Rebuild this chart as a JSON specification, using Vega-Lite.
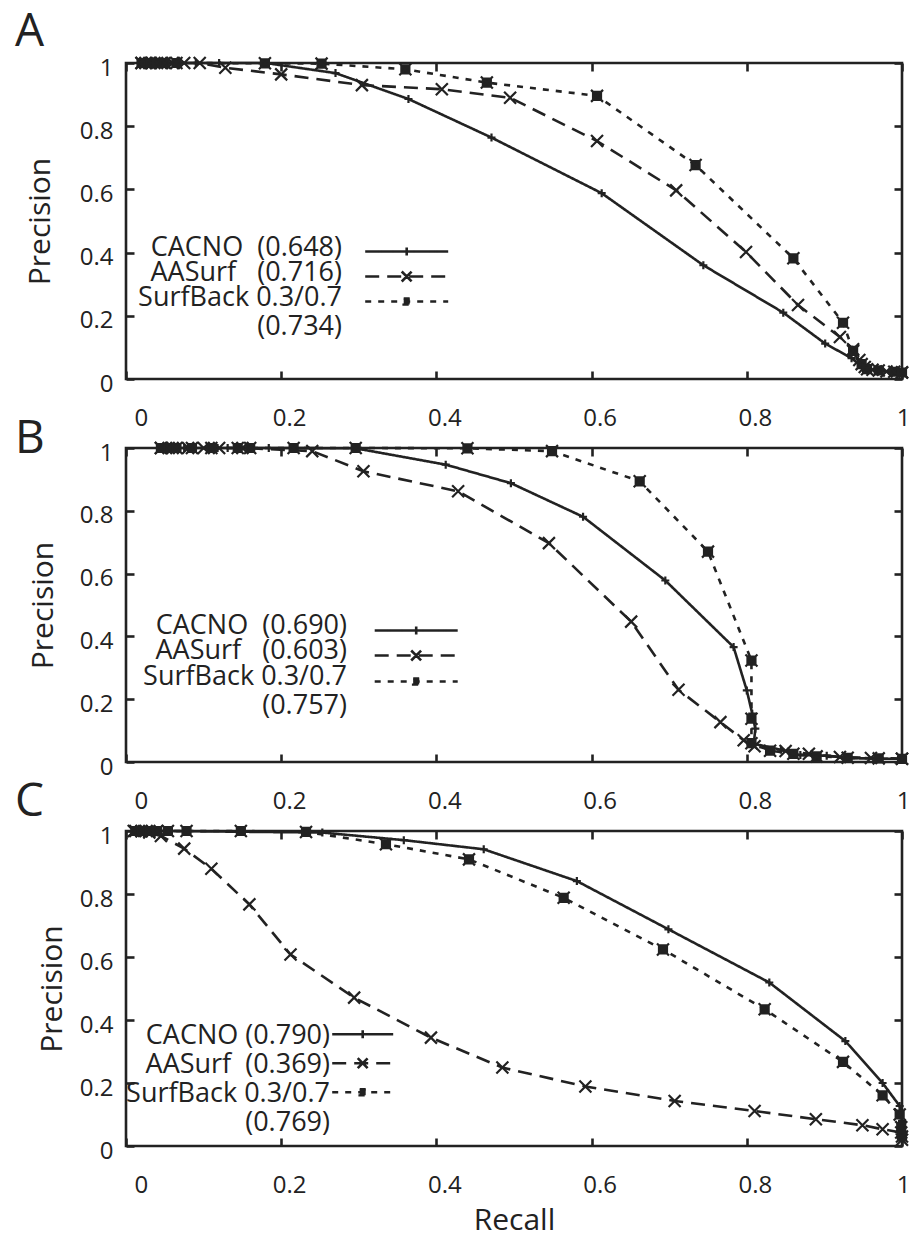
{
  "$schema": "https://vega.github.io/schema/vega-lite/v6.json",
  "background": "white",
  "padding": {"left": 13, "top": 7, "right": 5, "bottom": 5},
  "bounds": "flush",
  "spacing": 69,
  "resolve": {
    "scale": {"strokeDash": "independent", "x": "independent", "y": "independent"},
    "legend": {"strokeDash": "independent"}
  },
  "config": {
    "font": "Open Sans",
    "view": {"stroke": "#222", "strokeWidth": 2.6},
    "axis": {
      "domain": false, "grid": false, "tickSize": -8, "tickWidth": 2.6, "tickColor": "#222",
      "tickCount": 5, "format": "~g",
      "labelFont": "Open Sans", "labelFontSize": 24, "labelColor": "#222",
      "titleFont": "Open Sans", "titleFontSize": 30, "titleFontWeight": "normal", "titleColor": "#222"
    },
    "axisX": {"labelPadding": 35, "labelOffset": 8},
    "axisY": {"labelPadding": 21, "labelOffset": 5},
    "title": {"fontSize": 46, "fontWeight": "normal", "anchor": "start", "frame": "group", "baseline": "alphabetic", "offset": 0, "dx": -111, "color": "#222", "font": "Open Sans"},
    "legend": {"labelFont": "Open Sans", "labelFontSize": 27, "labelColor": "#222", "labelLimit": 500, "labelAlign": "right", "labelBaseline": "top", "symbolStrokeWidth": 2.6, "symbolStrokeColor": "#222", "symbolSize": 100, "padding": 0, "rowPadding": -3}
  },
  "vconcat": [
    {
      "width": 776, "height": 316,
      "title": {"text": "A", "dy": 7.5},
      "data": {"values": [
        {"method":"CACNO","recall":0.02,"precision":1},{"method":"CACNO","recall":0.035,"precision":1},{"method":"CACNO","recall":0.05,"precision":1},{"method":"CACNO","recall":0.07,"precision":1},{"method":"CACNO","recall":0.09,"precision":1},{"method":"CACNO","recall":0.12,"precision":1},{"method":"CACNO","recall":0.18,"precision":1},{"method":"CACNO","recall":0.27,"precision":0.968},{"method":"CACNO","recall":0.364,"precision":0.886},{"method":"CACNO","recall":0.471,"precision":0.764},{"method":"CACNO","recall":0.613,"precision":0.588},{"method":"CACNO","recall":0.744,"precision":0.36},{"method":"CACNO","recall":0.847,"precision":0.21},{"method":"CACNO","recall":0.901,"precision":0.112},{"method":"CACNO","recall":0.935,"precision":0.066},{"method":"CACNO","recall":0.952,"precision":0.032},{"method":"CACNO","recall":0.97,"precision":0.026},{"method":"CACNO","recall":1.0,"precision":0.02},
        {"method":"AASurf","recall":0.02,"precision":1},{"method":"AASurf","recall":0.03,"precision":1},{"method":"AASurf","recall":0.045,"precision":1},{"method":"AASurf","recall":0.06,"precision":1},{"method":"AASurf","recall":0.075,"precision":1},{"method":"AASurf","recall":0.095,"precision":1},{"method":"AASurf","recall":0.128,"precision":0.985},{"method":"AASurf","recall":0.2,"precision":0.964},{"method":"AASurf","recall":0.304,"precision":0.93},{"method":"AASurf","recall":0.407,"precision":0.917},{"method":"AASurf","recall":0.495,"precision":0.89},{"method":"AASurf","recall":0.607,"precision":0.753},{"method":"AASurf","recall":0.709,"precision":0.597},{"method":"AASurf","recall":0.799,"precision":0.402},{"method":"AASurf","recall":0.866,"precision":0.234},{"method":"AASurf","recall":0.92,"precision":0.133},{"method":"AASurf","recall":0.937,"precision":0.094},{"method":"AASurf","recall":0.945,"precision":0.06},{"method":"AASurf","recall":0.952,"precision":0.038},{"method":"AASurf","recall":0.962,"precision":0.029},{"method":"AASurf","recall":0.98,"precision":0.024},{"method":"AASurf","recall":1.0,"precision":0.021},
        {"method":"SurfBack","recall":0.02,"precision":1},{"method":"SurfBack","recall":0.025,"precision":1},{"method":"SurfBack","recall":0.032,"precision":1},{"method":"SurfBack","recall":0.04,"precision":1},{"method":"SurfBack","recall":0.05,"precision":1},{"method":"SurfBack","recall":0.065,"precision":1},{"method":"SurfBack","recall":0.179,"precision":0.999},{"method":"SurfBack","recall":0.252,"precision":0.998},{"method":"SurfBack","recall":0.36,"precision":0.98},{"method":"SurfBack","recall":0.465,"precision":0.938},{"method":"SurfBack","recall":0.607,"precision":0.896},{"method":"SurfBack","recall":0.734,"precision":0.677},{"method":"SurfBack","recall":0.86,"precision":0.382},{"method":"SurfBack","recall":0.924,"precision":0.178},{"method":"SurfBack","recall":0.937,"precision":0.089},{"method":"SurfBack","recall":0.948,"precision":0.047},{"method":"SurfBack","recall":0.955,"precision":0.031},{"method":"SurfBack","recall":0.97,"precision":0.027},{"method":"SurfBack","recall":0.99,"precision":0.023},{"method":"SurfBack","recall":1.0,"precision":0.0205}
      ]},
      "layer": [
        {
          "mark": {"type": "line", "stroke": "#222", "strokeWidth": 2.6},
          "encoding": {
            "x": {"field": "recall", "type": "quantitative", "scale": {"domain": [0, 1]}, "axis": {"orient": "bottom", "title": null}},
            "y": {"field": "precision", "type": "quantitative", "scale": {"domain": [0, 1]}, "axis": {"orient": "left", "title": "Precision", "titlePadding": 24}},
            "order": {"field": "precision", "sort": "descending"},
            "strokeDash": {
              "field": "method", "type": "nominal",
              "scale": {"domain": ["CACNO", "AASurf", "SurfBack"], "range": [[1, 0], [14, 8], [6, 7]]},
              "legend": {
                "orient": "none", "legendX": 267.2, "legendY": 175, "title": null,
                "labelOffset": -78.2,
                "labelExpr": "datum.value == 'CACNO' ? 'CACNO\u00a0\u00a0(0.648)' : datum.value == 'AASurf' ? 'AASurf\u00a0\u00a0\u00a0(0.716)' : ['SurfBack 0.3/0.7', '(0.734)']",
                "encode": {
                  "symbols": {"update": {
                    "shape": {"signal": "datum.value == 'CACNO' ? 'M-8.3,0H8.3M0,-0.8V0.8' : datum.value == 'AASurf' ? 'M-8.3,0H8.3M-1,-1L1,1M-1,1L1,-1' : 'M-8.3,0H8.3M-0.6,-0.6H0.6V0.6H-0.6Z'"},
                    "fill": {"value": "#222"}, "stroke": {"value": "#222"}, "opacity": {"value": 1}
                  }},
                  "labels": {"update": {"dy": {"value": -16.4}}}
                }
              }
            }
          }
        },
        {
          "transform": [{"filter": "datum.method == 'CACNO'"}],
          "mark": {"type": "point", "shape": "M-0.8,0H0.8M0,-0.8V0.8", "filled": true, "fill": "#222", "stroke": "#222", "strokeWidth": 2.2, "opacity": 1, "size": 100},
          "encoding": {
            "x": {"field": "recall", "type": "quantitative", "scale": {"domain": [0, 1]}, "axis": {"orient": "top", "labels": false, "title": null}},
            "y": {"field": "precision", "type": "quantitative", "scale": {"domain": [0, 1]}, "axis": {"orient": "right", "labels": false, "title": null}}
          }
        },
        {
          "transform": [{"filter": "datum.method == 'AASurf'"}],
          "mark": {"type": "point", "shape": "M-1.2,-1.2L1.2,1.2M-1.2,1.2L1.2,-1.2", "filled": true, "fill": "#222", "stroke": "#222", "strokeWidth": 2.2, "opacity": 1, "size": 100},
          "encoding": {
            "x": {"field": "recall", "type": "quantitative", "axis": null},
            "y": {"field": "precision", "type": "quantitative", "axis": null}
          }
        },
        {
          "transform": [{"filter": "datum.method == 'SurfBack'"}],
          "mark": {"type": "point", "shape": "M-0.8,-0.8H0.8V0.8H-0.8ZM-1.2,-1.2L1.2,1.2M-1.2,1.2L1.2,-1.2", "filled": true, "fill": "#222", "stroke": "#222", "strokeWidth": 2.2, "opacity": 1, "size": 100},
          "encoding": {
            "x": {"field": "recall", "type": "quantitative", "axis": null},
            "y": {"field": "precision", "type": "quantitative", "axis": null}
          }
        }
      ],
      "resolve": {"axis": {"x": "independent", "y": "independent"}}
    },
    {
      "width": 776, "height": 314,
      "title": {"text": "B", "dy": 29.5},
      "data": {"values": [
        {"method":"CACNO","recall":0.045,"precision":1},{"method":"CACNO","recall":0.06,"precision":1},{"method":"CACNO","recall":0.075,"precision":1},{"method":"CACNO","recall":0.09,"precision":1},{"method":"CACNO","recall":0.105,"precision":1},{"method":"CACNO","recall":0.118,"precision":1},{"method":"CACNO","recall":0.131,"precision":1},{"method":"CACNO","recall":0.184,"precision":1},{"method":"CACNO","recall":0.296,"precision":0.999},{"method":"CACNO","recall":0.412,"precision":0.947},{"method":"CACNO","recall":0.496,"precision":0.888},{"method":"CACNO","recall":0.589,"precision":0.781},{"method":"CACNO","recall":0.695,"precision":0.578},{"method":"CACNO","recall":0.783,"precision":0.366},{"method":"CACNO","recall":0.8,"precision":0.228},{"method":"CACNO","recall":0.807,"precision":0.154},{"method":"CACNO","recall":0.811,"precision":0.106},{"method":"CACNO","recall":0.809,"precision":0.058},{"method":"CACNO","recall":0.844,"precision":0.039},{"method":"CACNO","recall":0.869,"precision":0.022},{"method":"CACNO","recall":0.903,"precision":0.02},{"method":"CACNO","recall":0.934,"precision":0.012},{"method":"CACNO","recall":0.97,"precision":0.011},{"method":"CACNO","recall":1.0,"precision":0.01},
        {"method":"AASurf","recall":0.045,"precision":1},{"method":"AASurf","recall":0.06,"precision":1},{"method":"AASurf","recall":0.08,"precision":1},{"method":"AASurf","recall":0.1,"precision":1},{"method":"AASurf","recall":0.12,"precision":1},{"method":"AASurf","recall":0.15,"precision":1},{"method":"AASurf","recall":0.24,"precision":0.99},{"method":"AASurf","recall":0.306,"precision":0.926},{"method":"AASurf","recall":0.428,"precision":0.862},{"method":"AASurf","recall":0.545,"precision":0.697},{"method":"AASurf","recall":0.651,"precision":0.447},{"method":"AASurf","recall":0.712,"precision":0.23},{"method":"AASurf","recall":0.766,"precision":0.127},{"method":"AASurf","recall":0.796,"precision":0.069},{"method":"AASurf","recall":0.81,"precision":0.05},{"method":"AASurf","recall":0.85,"precision":0.035},{"method":"AASurf","recall":0.88,"precision":0.026},{"method":"AASurf","recall":0.92,"precision":0.016},{"method":"AASurf","recall":0.96,"precision":0.013},{"method":"AASurf","recall":1.0,"precision":0.0105},
        {"method":"SurfBack","recall":0.045,"precision":1},{"method":"SurfBack","recall":0.055,"precision":1},{"method":"SurfBack","recall":0.065,"precision":1},{"method":"SurfBack","recall":0.085,"precision":1},{"method":"SurfBack","recall":0.11,"precision":1},{"method":"SurfBack","recall":0.144,"precision":1},{"method":"SurfBack","recall":0.16,"precision":1},{"method":"SurfBack","recall":0.216,"precision":1},{"method":"SurfBack","recall":0.296,"precision":1},{"method":"SurfBack","recall":0.44,"precision":0.999},{"method":"SurfBack","recall":0.549,"precision":0.99},{"method":"SurfBack","recall":0.662,"precision":0.894},{"method":"SurfBack","recall":0.75,"precision":0.67},{"method":"SurfBack","recall":0.806,"precision":0.323},{"method":"SurfBack","recall":0.806,"precision":0.138},{"method":"SurfBack","recall":0.806,"precision":0.06},{"method":"SurfBack","recall":0.83,"precision":0.036},{"method":"SurfBack","recall":0.86,"precision":0.026},{"method":"SurfBack","recall":0.89,"precision":0.018},{"method":"SurfBack","recall":0.93,"precision":0.0135},{"method":"SurfBack","recall":0.97,"precision":0.0115},{"method":"SurfBack","recall":1.0,"precision":0.0102}
      ]},
      "layer": [
        {
          "mark": {"type": "line", "stroke": "#222", "strokeWidth": 2.6},
          "encoding": {
            "x": {"field": "recall", "type": "quantitative", "scale": {"domain": [0, 1]}, "axis": {"orient": "bottom", "title": null}},
            "y": {"field": "precision", "type": "quantitative", "scale": {"domain": [0, 1]}, "axis": {"orient": "left", "title": "Precision", "titlePadding": 21}},
            "order": {"field": "precision", "sort": "descending"},
            "strokeDash": {
              "field": "method", "type": "nominal",
              "scale": {"domain": ["CACNO", "AASurf", "SurfBack"], "range": [[1, 0], [14, 8], [6, 7]]},
              "legend": {
                "orient": "none", "legendX": 276.7, "legendY": 169, "title": null,
                "labelOffset": -82.7,
                "labelExpr": "datum.value == 'CACNO' ? 'CACNO\u00a0\u00a0(0.690)' : datum.value == 'AASurf' ? 'AASurf\u00a0\u00a0\u00a0(0.603)' : ['SurfBack 0.3/0.7', '(0.757)']",
                "encode": {
                  "symbols": {"update": {
                    "shape": {"signal": "datum.value == 'CACNO' ? 'M-8.3,0H8.3M0,-0.8V0.8' : datum.value == 'AASurf' ? 'M-8.3,0H8.3M-1,-1L1,1M-1,1L1,-1' : 'M-8.3,0H8.3M-0.6,-0.6H0.6V0.6H-0.6Z'"},
                    "fill": {"value": "#222"}, "stroke": {"value": "#222"}, "opacity": {"value": 1}
                  }},
                  "labels": {"update": {"dy": {"value": -17.4}}}
                }
              }
            }
          }
        },
        {
          "transform": [{"filter": "datum.method == 'CACNO'"}],
          "mark": {"type": "point", "shape": "M-0.8,0H0.8M0,-0.8V0.8", "filled": true, "fill": "#222", "stroke": "#222", "strokeWidth": 2.2, "opacity": 1, "size": 100},
          "encoding": {
            "x": {"field": "recall", "type": "quantitative", "scale": {"domain": [0, 1]}, "axis": {"orient": "top", "labels": false, "title": null}},
            "y": {"field": "precision", "type": "quantitative", "scale": {"domain": [0, 1]}, "axis": {"orient": "right", "labels": false, "title": null}}
          }
        },
        {
          "transform": [{"filter": "datum.method == 'AASurf'"}],
          "mark": {"type": "point", "shape": "M-1.2,-1.2L1.2,1.2M-1.2,1.2L1.2,-1.2", "filled": true, "fill": "#222", "stroke": "#222", "strokeWidth": 2.2, "opacity": 1, "size": 100},
          "encoding": {
            "x": {"field": "recall", "type": "quantitative", "axis": null},
            "y": {"field": "precision", "type": "quantitative", "axis": null}
          }
        },
        {
          "transform": [{"filter": "datum.method == 'SurfBack'"}],
          "mark": {"type": "point", "shape": "M-0.8,-0.8H0.8V0.8H-0.8ZM-1.2,-1.2L1.2,1.2M-1.2,1.2L1.2,-1.2", "filled": true, "fill": "#222", "stroke": "#222", "strokeWidth": 2.2, "opacity": 1, "size": 100},
          "encoding": {
            "x": {"field": "recall", "type": "quantitative", "axis": null},
            "y": {"field": "precision", "type": "quantitative", "axis": null}
          }
        }
      ],
      "resolve": {"axis": {"x": "independent", "y": "independent"}}
    },
    {
      "width": 776, "height": 315,
      "title": {"text": "C", "dy": 9.5},
      "data": {"values": [
        {"method":"CACNO","recall":0.01,"precision":1},{"method":"CACNO","recall":0.02,"precision":1},{"method":"CACNO","recall":0.03,"precision":1},{"method":"CACNO","recall":0.04,"precision":1},{"method":"CACNO","recall":0.055,"precision":1},{"method":"CACNO","recall":0.253,"precision":0.995},{"method":"CACNO","recall":0.358,"precision":0.971},{"method":"CACNO","recall":0.461,"precision":0.942},{"method":"CACNO","recall":0.581,"precision":0.841},{"method":"CACNO","recall":0.699,"precision":0.688},{"method":"CACNO","recall":0.829,"precision":0.519},{"method":"CACNO","recall":0.927,"precision":0.333},{"method":"CACNO","recall":0.975,"precision":0.2},{"method":"CACNO","recall":0.997,"precision":0.127},{"method":"CACNO","recall":1.0,"precision":0.08},{"method":"CACNO","recall":1.0,"precision":0.04},
        {"method":"AASurf","recall":0.01,"precision":1},{"method":"AASurf","recall":0.02,"precision":0.999},{"method":"AASurf","recall":0.03,"precision":0.995},{"method":"AASurf","recall":0.045,"precision":0.984},{"method":"AASurf","recall":0.075,"precision":0.944},{"method":"AASurf","recall":0.11,"precision":0.88},{"method":"AASurf","recall":0.159,"precision":0.767},{"method":"AASurf","recall":0.212,"precision":0.608},{"method":"AASurf","recall":0.294,"precision":0.471},{"method":"AASurf","recall":0.393,"precision":0.344},{"method":"AASurf","recall":0.485,"precision":0.249},{"method":"AASurf","recall":0.592,"precision":0.189},{"method":"AASurf","recall":0.707,"precision":0.143},{"method":"AASurf","recall":0.81,"precision":0.111},{"method":"AASurf","recall":0.889,"precision":0.085},{"method":"AASurf","recall":0.949,"precision":0.066},{"method":"AASurf","recall":0.975,"precision":0.053},{"method":"AASurf","recall":0.999,"precision":0.043},{"method":"AASurf","recall":1.0,"precision":0.02},
        {"method":"SurfBack","recall":0.012,"precision":1},{"method":"SurfBack","recall":0.02,"precision":1},{"method":"SurfBack","recall":0.03,"precision":1},{"method":"SurfBack","recall":0.04,"precision":1},{"method":"SurfBack","recall":0.054,"precision":1},{"method":"SurfBack","recall":0.078,"precision":1},{"method":"SurfBack","recall":0.148,"precision":1},{"method":"SurfBack","recall":0.232,"precision":0.997},{"method":"SurfBack","recall":0.335,"precision":0.958},{"method":"SurfBack","recall":0.442,"precision":0.91},{"method":"SurfBack","recall":0.564,"precision":0.788},{"method":"SurfBack","recall":0.692,"precision":0.624},{"method":"SurfBack","recall":0.823,"precision":0.434},{"method":"SurfBack","recall":0.924,"precision":0.267},{"method":"SurfBack","recall":0.975,"precision":0.161},{"method":"SurfBack","recall":0.997,"precision":0.1},{"method":"SurfBack","recall":0.999,"precision":0.06},{"method":"SurfBack","recall":1.0,"precision":0.03}
      ]},
      "layer": [
        {
          "mark": {"type": "line", "stroke": "#222", "strokeWidth": 2.6},
          "encoding": {
            "x": {"field": "recall", "type": "quantitative", "scale": {"domain": [0, 1]}, "axis": {"orient": "bottom", "title": "Recall", "titlePadding": 8}},
            "y": {"field": "precision", "type": "quantitative", "scale": {"domain": [0, 1]}, "axis": {"orient": "left", "title": "Precision", "titlePadding": 12}},
            "order": {"field": "precision", "sort": "descending"},
            "strokeDash": {
              "field": "method", "type": "nominal",
              "scale": {"domain": ["CACNO", "AASurf", "SurfBack"], "range": [[1, 0], [14, 8], [6, 7]]},
              "legend": {
                "orient": "none", "legendX": 223.2, "legendY": 189.7, "title": null,
                "labelOffset": -46.2,
                "labelExpr": "datum.value == 'CACNO' ? 'CACNO (0.790)' : datum.value == 'AASurf' ? 'AASurf\u00a0\u00a0(0.369)' : ['SurfBack 0.3/0.7', '(0.769)']",
                "encode": {
                  "symbols": {"update": {
                    "shape": {"signal": "datum.value == 'CACNO' ? 'M-6.1,0H6.1M0,-0.8V0.8' : datum.value == 'AASurf' ? 'M-6.1,0H6.1M-1,-1L1,1M-1,1L1,-1' : 'M-6.1,0H6.1M-0.6,-0.6H0.6V0.6H-0.6Z'"},
                    "fill": {"value": "#222"}, "stroke": {"value": "#222"}, "opacity": {"value": 1}
                  }},
                  "labels": {"update": {"dy": {"value": -11.4}}}
                }
              }
            }
          }
        },
        {
          "transform": [{"filter": "datum.method == 'CACNO'"}],
          "mark": {"type": "point", "shape": "M-0.8,0H0.8M0,-0.8V0.8", "filled": true, "fill": "#222", "stroke": "#222", "strokeWidth": 2.2, "opacity": 1, "size": 100},
          "encoding": {
            "x": {"field": "recall", "type": "quantitative", "scale": {"domain": [0, 1]}, "axis": {"orient": "top", "labels": false, "title": null}},
            "y": {"field": "precision", "type": "quantitative", "scale": {"domain": [0, 1]}, "axis": {"orient": "right", "labels": false, "title": null}}
          }
        },
        {
          "transform": [{"filter": "datum.method == 'AASurf'"}],
          "mark": {"type": "point", "shape": "M-1.2,-1.2L1.2,1.2M-1.2,1.2L1.2,-1.2", "filled": true, "fill": "#222", "stroke": "#222", "strokeWidth": 2.2, "opacity": 1, "size": 100},
          "encoding": {
            "x": {"field": "recall", "type": "quantitative", "axis": null},
            "y": {"field": "precision", "type": "quantitative", "axis": null}
          }
        },
        {
          "transform": [{"filter": "datum.method == 'SurfBack'"}],
          "mark": {"type": "point", "shape": "M-0.8,-0.8H0.8V0.8H-0.8ZM-1.2,-1.2L1.2,1.2M-1.2,1.2L1.2,-1.2", "filled": true, "fill": "#222", "stroke": "#222", "strokeWidth": 2.2, "opacity": 1, "size": 100},
          "encoding": {
            "x": {"field": "recall", "type": "quantitative", "axis": null},
            "y": {"field": "precision", "type": "quantitative", "axis": null}
          }
        }
      ],
      "resolve": {"axis": {"x": "independent", "y": "independent"}}
    }
  ]
}
